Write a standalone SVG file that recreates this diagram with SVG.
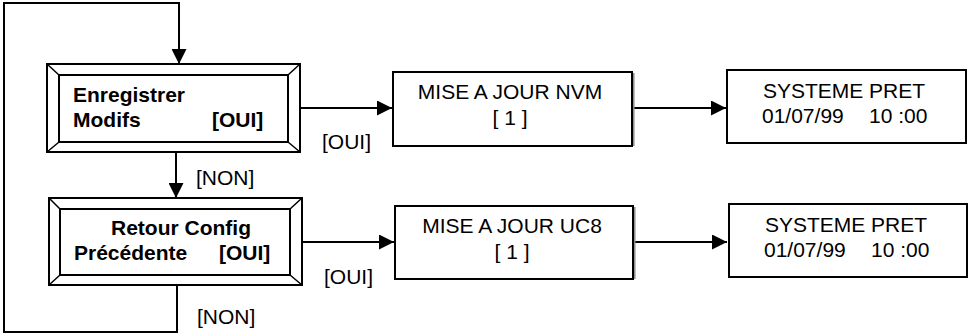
<svg xmlns="http://www.w3.org/2000/svg" width="969" height="334" viewBox="0 0 969 334">
<style>
  .ln { fill: none; stroke: #000; stroke-width: 2; }
  .box { fill: #fff; stroke: #000; stroke-width: 2; }
  .shadow { stroke: #8c8c8c; stroke-width: 1.5; }
  .bev-top { fill: #fff; }
  .bev-right { fill: #999999; }
  .bev-bottom { fill: #cccccc; }
  .bev-line { fill: none; stroke: #000; stroke-width: 1.5; }
  .b { font-family: "Liberation Sans", Arial, sans-serif; font-weight: bold; font-size: 21px; fill: #000; }
  .t { font-family: "Liberation Sans", Arial, sans-serif; font-size: 21px; fill: #000; }
  .c { text-anchor: middle; }
</style>
<defs>
  <marker id="arr" markerWidth="15" markerHeight="15" refX="15" refY="7.5" orient="auto" markerUnits="userSpaceOnUse">
    <path d="M0,0 L15,7.5 L0,15 Z" fill="#000"/>
  </marker>
</defs>

<g id="connectors">
  <path class="ln" d="M177,285 V332 H4 V3 H179 V64" marker-end="url(#arr)"/>
  <path class="ln" d="M176,152 V198" marker-end="url(#arr)"/>
  <path class="ln" d="M300,108 H392" marker-end="url(#arr)"/>
  <path class="ln" d="M633,108 H726" marker-end="url(#arr)"/>
  <path class="ln" d="M302,242 H394" marker-end="url(#arr)"/>
  <path class="ln" d="M634,242 H727" marker-end="url(#arr)"/>
  <text class="t" x="322" y="149">[OUI]</text>
  <text class="t" x="324" y="284">[OUI]</text>
  <text class="t" x="196" y="185">[NON]</text>
  <text class="t" x="197" y="324">[NON]</text>
</g>

<g id="enregistrer">
  <rect class="bev-top" x="47" y="64" width="253" height="88"/>
  <polygon class="bev-right" points="300,64 288,75 288,142 300,152"/>
  <polygon class="bev-bottom" points="47,152 59,142 288,142 300,152"/>
  <rect class="box" x="47" y="64" width="253" height="88"/>
  <rect class="box" x="59" y="75" width="229" height="67"/>
  <path class="bev-line" d="M47,64 L59,75 M300,64 L288,75 M47,152 L59,142 M300,152 L288,142"/>
  <text class="b" x="73" y="102">Enregistrer</text>
  <text class="b" x="73" y="127">Modifs</text>
  <text class="b" x="212" y="127">[OUI]</text>
</g>

<g id="retour">
  <rect class="bev-top" x="49" y="198" width="253" height="87"/>
  <polygon class="bev-right" points="302,198 290,209 290,275 302,285"/>
  <polygon class="bev-bottom" points="49,285 60,275 290,275 302,285"/>
  <rect class="box" x="49" y="198" width="253" height="87"/>
  <rect class="box" x="60" y="209" width="230" height="66"/>
  <path class="bev-line" d="M49,198 L60,209 M302,198 L290,209 M49,285 L60,275 M302,285 L290,275"/>
  <text class="b" x="111" y="235">Retour Config</text>
  <text class="b" x="74" y="260">Précédente</text>
  <text class="b" x="219" y="260">[OUI]</text>
</g>

<g id="nvm">
  <rect class="box" x="393" y="72" width="239" height="74"/>
  <line class="shadow" x1="633.8" y1="73" x2="633.8" y2="146"/>
  <text class="t c" x="510" y="99">MISE A JOUR NVM</text>
  <text class="t c" x="510" y="125">[ 1 ]</text>
</g>

<g id="uc8">
  <rect class="box" x="395" y="206" width="238" height="73"/>
  <line class="shadow" x1="634.8" y1="207" x2="634.8" y2="279"/>
  <text class="t c" x="512" y="233">MISE A JOUR UC8</text>
  <text class="t c" x="512" y="259">[ 1 ]</text>
</g>

<g id="pret1">
  <rect class="box" x="727" y="70" width="239" height="73"/>
  <text class="t c" x="844" y="98">SYSTEME PRET</text>
  <text class="t" y="123"><tspan x="762">01/07/99</tspan><tspan x="869">10 :00</tspan></text>
</g>

<g id="pret2">
  <rect class="box" x="729" y="204" width="238" height="73"/>
  <text class="t c" x="846" y="232">SYSTEME PRET</text>
  <text class="t" y="257"><tspan x="764">01/07/99</tspan><tspan x="871">10 :00</tspan></text>
</g>
</svg>
